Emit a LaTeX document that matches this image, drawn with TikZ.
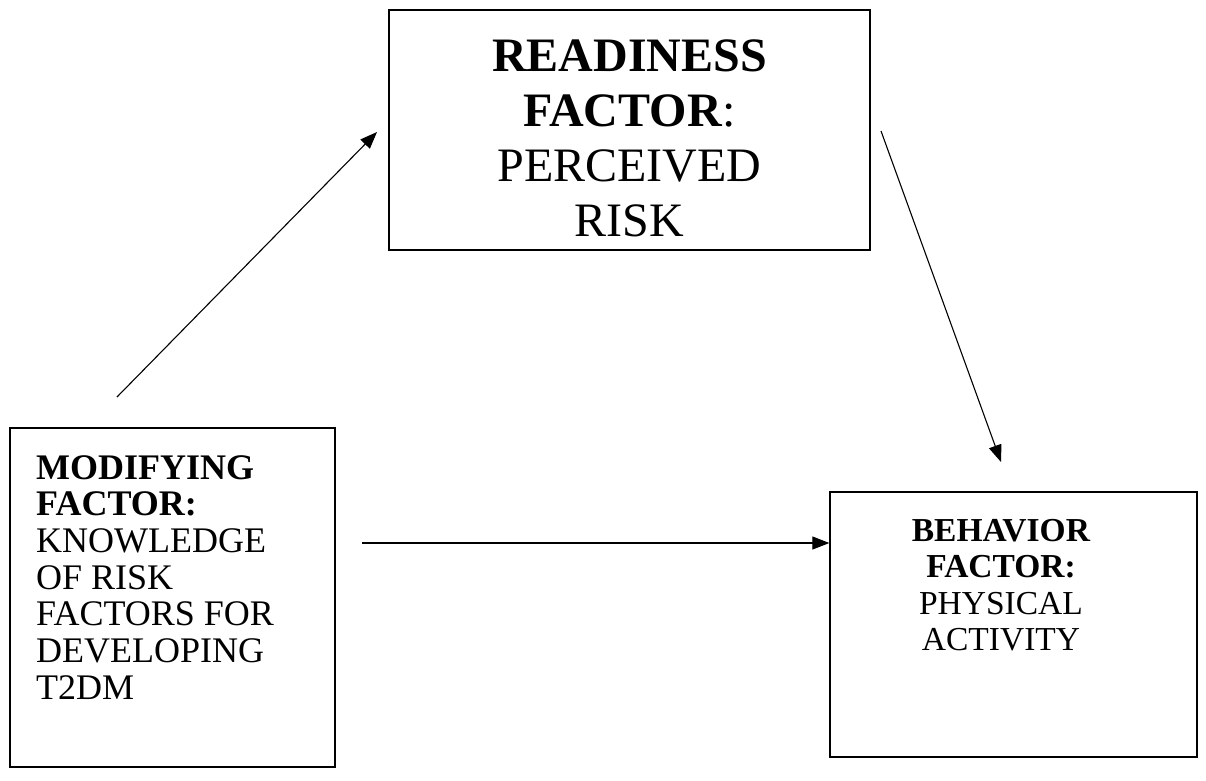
\documentclass[tikz,border=0pt]{standalone}
\usepackage{fontspec}
\setmainfont{Liberation Serif}
\usetikzlibrary{arrows.meta}
\begin{document}
\begin{tikzpicture}[x=1pt,y=-1pt,
  box/.style={draw, line width=1.3pt, inner sep=0pt, rectangle},
  conn/.style={line width=1.1pt, -{Triangle[length=17pt,width=13pt]}},
  bigtxt/.style={font=\fontsize{48}{55}\selectfont, align=center, inner sep=0pt},
  modtxt/.style={font=\fontsize{36}{36.7}\selectfont, inner sep=0pt},
  behtxt/.style={font=\fontsize{33.5}{36.5}\selectfont, inner sep=0pt}]
\useasboundingbox (0,0) rectangle (1206,780);
\fill[white] (0,0) rectangle (1206,780);
% boxes
\node[box, minimum width=481pt, minimum height=240pt] (ready) at (629.5,130) {};
\node[box, minimum width=325pt, minimum height=339pt] (modif) at (172.5,597.5) {};
\node[box, minimum width=367pt, minimum height=265pt] (behav) at (1013.5,624.5) {};
% texts
\node[bigtxt, anchor=north] (readyT) at (629.5,40) {\textbf{READINESS}\\\textbf{FACTOR}:\\PERCEIVED\\RISK};
\node[modtxt, align=left, anchor=north west] (modifT) at (36,455) {\textbf{MODIFYING}\\\textbf{FACTOR:}\\KNOWLEDGE\\OF RISK\\FACTORS FOR\\DEVELOPING\\T2DM};
\node[behtxt, align=center, anchor=north] (behavT) at (1001,519) {\textbf{BEHAVIOR}\\\textbf{FACTOR:}\\PHYSICAL\\ACTIVITY};
% connector free ends
\coordinate (a1s) at (117,397);
\coordinate (a1e) at (377,132);
\coordinate (a2s) at (881,131);
\coordinate (a2e) at (1001,462);
\coordinate (a3s) at (362,543);
\draw[conn] (a1s) -- (a1e);
\draw[conn] (a2s) -- (a2e);
\draw[conn] (a3s) -- (a3s -| behav.west);
\end{tikzpicture}
\end{document}
